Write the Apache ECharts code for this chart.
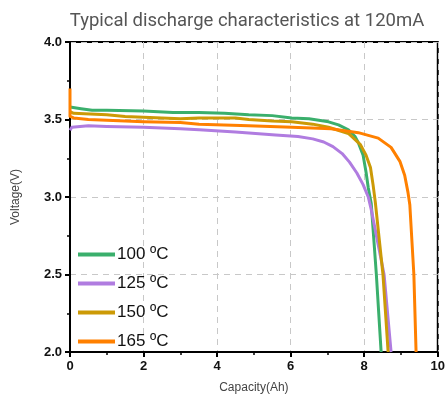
<!DOCTYPE html>
<html><head><meta charset="utf-8">
<script src="https://cdn.jsdelivr.net/npm/echarts@6/dist/echarts.min.js"></script>
<style>html,body{margin:0;padding:0;background:#fff}#c{width:448px;height:399px}</style>
</head><body><div id="c"></div>
<script>
const seriesNames = ['100 ºC', '125 ºC', '150 ºC', '165 ºC'];
const colors = ['#3aaf6c', '#b07ce0', '#cc9a06', '#ff8000'];
const cap100 = [0, 0.3, 0.6, 1, 2, 2.8, 3.5, 4.2, 4.86, 5.5, 6.03, 6.5, 7.03, 7.3, 7.57, 7.75, 7.84, 7.97, 8.05, 8.11, 8.19, 8.33, 8.46];
const v100   = [3.58, 3.57, 3.56, 3.56, 3.555, 3.545, 3.545, 3.54, 3.53, 3.525, 3.51, 3.505, 3.485, 3.465, 3.434, 3.39, 3.35, 3.27, 3.16, 3.06, 2.96, 2.5, 2.0];
const cap125 = [0, 0.05, 0.5, 1, 2, 3, 3.51, 4.5, 5.59, 6.2, 6.6, 6.9, 7.15, 7.4, 7.6, 7.8, 7.97, 8.11, 8.19, 8.54, 8.73];
const v125   = [3.43, 3.45, 3.46, 3.455, 3.45, 3.44, 3.434, 3.42, 3.40, 3.39, 3.375, 3.355, 3.325, 3.28, 3.225, 3.155, 3.08, 3.0, 2.92, 2.5, 2.0];
const cap150 = [0, 0.1, 1, 1.5, 2, 3, 3.51, 4.5, 4.86, 5.5, 6.03, 6.6, 7.03, 7.57, 7.89, 8.05, 8.17, 8.24, 8.3, 8.51, 8.65];
const v150   = [3.55, 3.54, 3.53, 3.52, 3.515, 3.505, 3.51, 3.51, 3.50, 3.49, 3.485, 3.47, 3.45, 3.41, 3.34, 3.27, 3.19, 3.08, 2.97, 2.5, 2.0];
const cap165 = [0, 0, 0.1, 0.5, 1, 2, 3, 3.51, 4.86, 6.03, 7.1, 7.84, 8.38, 8.73, 8.97, 9.1, 9.19, 9.24, 9.35, 9.41];
const v165   = [3.70, 3.52, 3.51, 3.50, 3.495, 3.485, 3.48, 3.47, 3.46, 3.45, 3.44, 3.415, 3.38, 3.32, 3.23, 3.14, 3.03, 2.95, 2.5, 2.0];
const caps = [cap100, cap125, cap150, cap165];
const volts = [v100, v125, v150, v165];

const chart = echarts.init(document.getElementById('c'), null, {renderer: 'canvas'});
const condensed = 'Liberation Sans Narrow, Liberation Sans, sans-serif';
const tickFont = {fontFamily: condensed, fontWeight: 'bold', fontSize: 13, color: '#111'};
chart.setOption({
  animation: false,
  title: {text: 'Typical discharge characteristics at 120mA', left: 242, textAlign: 'center', top: 7,
    textStyle: {fontFamily: 'Roboto, sans-serif', fontWeight: 'normal', fontSize: 18.5, color: '#555'}},
  grid: {left: 70, right: 8, top: 42, bottom: 47, show: true, borderColor: '#000', borderWidth: 2, backgroundColor: 'transparent'},
  legend: {orient: 'vertical', left: 73, top: 241, itemWidth: 37, itemHeight: 4, itemGap: 12, icon: 'rect',
    data: seriesNames,
    textStyle: {fontFamily: condensed, fontSize: 17, color: '#111', padding: [0,0,0,-3]}},
  xAxis: {type: 'value', min: 0, max: 10, interval: 2, name: 'Capacity(Ah)', nameLocation: 'middle', nameGap: 30,
    nameTextStyle: {fontFamily: 'Liberation Sans, sans-serif', fontSize: 12, color: '#444'},
    axisLine: {show: true, lineStyle: {color: '#000', width: 2}},
    axisTick: {show: true, inside: false, length: 5, lineStyle: {color: '#000', width: 2}},
    minorTick: {show: true, splitNumber: 2, length: 3, lineStyle: {color: '#000', width: 1.5}},
    axisLabel: Object.assign({margin: 8}, tickFont),
    splitLine: {show: true, lineStyle: {color: '#c8c8c8', type: [6, 5], width: 1}}},
  yAxis: {type: 'value', min: 2.0, max: 4.0, interval: 0.5, name: 'Voltage(V)', nameLocation: 'middle', nameGap: 48,
    nameTextStyle: {fontFamily: 'Liberation Sans, sans-serif', fontSize: 12, color: '#444'},
    axisLine: {show: true, lineStyle: {color: '#000', width: 2}},
    axisTick: {show: true, inside: false, length: 5, lineStyle: {color: '#000', width: 2}},
    minorTick: {show: true, splitNumber: 2, length: 3, lineStyle: {color: '#000', width: 1.5}},
    axisLabel: Object.assign({margin: 8, formatter: v => v.toFixed(1)}, tickFont),
    splitLine: {show: true, lineStyle: {color: '#c8c8c8', type: [6, 5], width: 1}}},
  series: seriesNames.map((n, i) => ({
    name: n, type: 'line', showSymbol: false, symbol: 'none', smooth: false,
    itemStyle: {color: colors[i]},
    lineStyle: {color: colors[i], width: 3, join: 'round'},
    data: caps[i].map((c, j) => [c, volts[i][j]])
  }))
});
</script></body></html>
